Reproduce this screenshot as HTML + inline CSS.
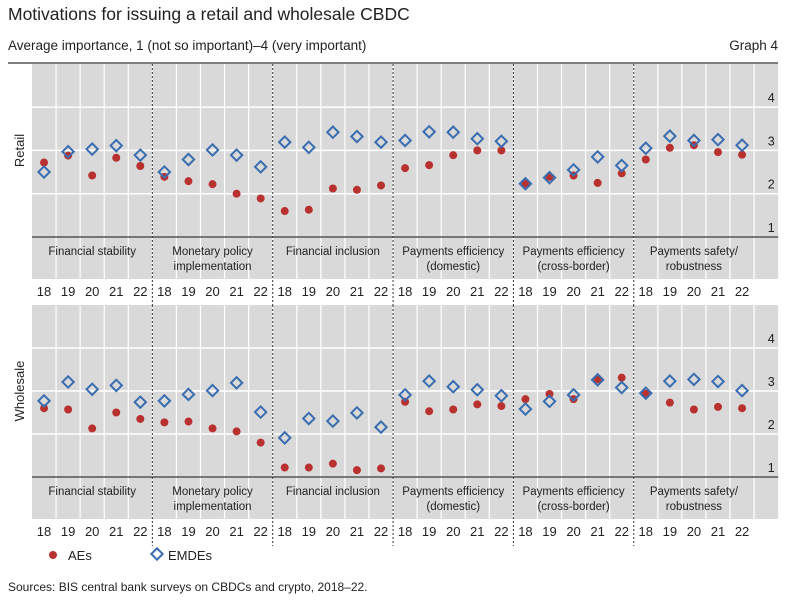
<!DOCTYPE html>
<html><head><meta charset="utf-8">
<style>
body{margin:0;background:#fff;font-family:"Liberation Sans",sans-serif;}
svg{display:block}
text{font-family:"Liberation Sans",sans-serif;fill:#222}
</style></head>
<body>
<svg id="chart" width="808" height="603" viewBox="0 0 808 603">
<text x="8" y="20" font-size="17.5">Motivations for issuing a retail and wholesale CBDC</text>
<text x="8" y="50" font-size="13.5">Average importance, 1 (not so important)–4 (very important)</text>
<text x="778" y="50" font-size="13.5" text-anchor="end">Graph 4</text>
<line x1="8" y1="63" x2="778" y2="63" stroke="#555" stroke-width="1.5"/>
<g id="plots"></g>
<circle cx="53" cy="555" r="4" fill="#b8312f"/>
<text x="68" y="560" font-size="13">AEs</text>
<rect x="153" y="550" width="8" height="8" fill="none" stroke="#3a6db0" stroke-width="2" transform="rotate(45 157 554)"/>
<text x="168" y="560" font-size="13">EMDEs</text>
<text x="8" y="591" font-size="12">Sources: BIS central bank surveys on CBDCs and crypto, 2018–22.</text>
</svg>
<script>
const categories=[["Financial stability"],["Monetary policy","implementation"],["Financial inclusion"],["Payments efficiency","(domestic)"],["Payments efficiency","(cross-border)"],["Payments safety/","robustness"]];
const years=["18","19","20","21","22"];
const yTicks=[1,2,3,4];
const retailAEs=[2.72,2.88,2.42,2.83,2.64, 2.39,2.29,2.22,2.0,1.89, 1.60,1.63,2.12,2.09,2.19, 2.59,2.66,2.89,3.0,3.0, 2.23,2.39,2.42,2.25,2.47, 2.79,3.06,3.12,2.96,2.90];
const retailEMDEs=[2.50,2.97,3.03,3.11,2.89, 2.50,2.79,3.01,2.89,2.62, 3.19,3.07,3.42,3.32,3.19, 3.23,3.43,3.42,3.27,3.21, 2.23,2.37,2.55,2.85,2.65, 3.05,3.33,3.23,3.25,3.12];
const wholesaleAEs=[2.60,2.57,2.13,2.50,2.35, 2.27,2.29,2.13,2.06,1.80, 1.22,1.22,1.31,1.16,1.20, 2.75,2.53,2.57,2.69,2.65, 2.81,2.93,2.81,3.27,3.31, 2.94,2.73,2.57,2.63,2.60];
const wholesaleEMDEs=[2.77,3.21,3.04,3.13,2.74, 2.77,2.92,3.01,3.19,2.51, 1.91,2.36,2.30,2.49,2.16, 2.91,3.23,3.10,3.03,2.89, 2.58,2.76,2.91,3.26,3.08, 2.95,3.23,3.27,3.22,3.01];

const NS="http://www.w3.org/2000/svg";
const g=document.getElementById('plots');
function mk(tag,attrs,parent){const e=document.createElementNS(NS,tag);for(const k in attrs)e.setAttribute(k,attrs[k]);(parent||g).appendChild(e);return e;}
const X0=32,COLW=24.07,NCOL=31,XR=X0+NCOL*COLW;
function xPos(i){return X0+(i+0.5)*COLW;}
function drawPanel(name,top,axisY,step,ae,emde,labelName){
  const yPos=v=>axisY-(v-1)*step;
  const bandBot=axisY+42, yearY=bandBot+13;
  const pg=mk('g',{});
  
  
  const bg=mk('rect',{x:X0,y:top,width:XR-X0,height:bandBot-top,fill:'#d9d9d9'},pg);
  
  
  for(let i=1;i<NCOL;i++){const l=mk('line',{x1:X0+i*COLW,x2:X0+i*COLW,y1:top,y2:bandBot,stroke:'#fff','stroke-width':1.2},pg);
    }
  yTicks.forEach(v=>{if(v>1){const l=mk('line',{x1:X0,x2:XR,y1:yPos(v),y2:yPos(v),stroke:'#fff','stroke-width':1.5},pg);
    }
    const t=mk('text',{x:XR-7,y:yPos(v)-5,'font-size':12.5,'text-anchor':'middle'},pg);t.textContent=v;
    });
  const ax=mk('line',{x1:X0,x2:XR,y1:axisY,y2:axisY,stroke:'#555','stroke-width':1.5},pg);
  
  for(let c=1;c<categories.length;c++){const x=X0+c*5*COLW;
    const d=mk('line',{x1:x,x2:x,y1:top,y2:bandBot+27,stroke:'#333','stroke-width':1,'stroke-dasharray':'2,2'},pg);
    }
  categories.forEach((lines,c)=>{const cx=X0+(c*5+2.5)*COLW;
    lines.forEach((s,k)=>{const t=mk('text',{x:cx,y:axisY+18+k*15,'font-size':11.5,'text-anchor':'middle'},pg);t.textContent=s;
      });
    years.forEach((yr,j)=>{const t=mk('text',{x:xPos(c*5+j),y:yearY+4,'font-size':13,'text-anchor':'middle'},pg);t.textContent=yr;
      });});
  const lab=mk('text',{x:0,y:0,'font-size':13,'text-anchor':'middle',transform:`translate(24 ${(top+axisY)/2}) rotate(-90)`},pg);
  lab.textContent=labelName;
  
  ae.forEach((v,i)=>{const c=mk('circle',{cx:xPos(i),cy:yPos(v),r:4,fill:'#b8312f'},pg);
    });
  emde.forEach((v,i)=>{const x=xPos(i),y=yPos(v);
    const r=mk('rect',{x:x-4,y:y-4,width:8,height:8,fill:'none',stroke:'#3a6db0','stroke-width':2,transform:`rotate(45 ${x} ${y})`},pg);
    });
}
drawPanel('retail',64,237,43.3,retailAEs,retailEMDEs,'Retail');
drawPanel('wholesale',305,477,43,wholesaleAEs,wholesaleEMDEs,'Wholesale');
</script>
</body></html>
